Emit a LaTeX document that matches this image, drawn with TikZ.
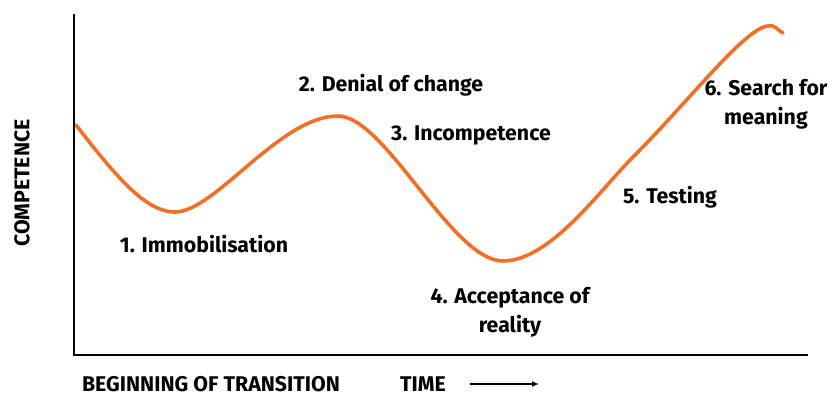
\documentclass[tikz,border=0pt]{standalone}
\usepackage{fontspec}
\setmainfont{Fira Sans}
\usetikzlibrary{arrows.meta}
\definecolor{curveorange}{HTML}{F07027}
\begin{document}
\begin{tikzpicture}[x=1pt,y=-1pt,
  lbl/.style={font=\fontsize{21.3}{29}\selectfont\bfseries, align=center, inner sep=0pt},
  axis/.style={line width=2.6pt, line cap=butt},
  curve/.style={curveorange, line width=3.6pt, line cap=round, line join=round}]
  \useasboundingbox (0,0) rectangle (828,394);
  % axes
  \coordinate (top) at (74,14);
  \coordinate (origin) at (74,355);
  \coordinate (xend) at (808,355);
  \draw[axis] (top) -- (origin) -- (xend);
  % transition curve
  \coordinate (c0) at (76,125);
  \coordinate (c1) at (175,212);
  \coordinate (c2) at (338,116);
  \coordinate (c3) at (503,261);
  \coordinate (c4) at (633,157);
  \coordinate (c5) at (768,26);
  \coordinate (c6) at (783,33);
  \draw[curve] (c0) .. controls (115,175) and (145,212) .. (c1)
    .. controls (215,212) and (280,116) .. (c2)
    .. controls (385,116) and (452,261) .. (c3)
    .. controls (550,261) and (600,190) .. (c4)
    .. controls (690,100) and (745,28) .. (c5)
    .. controls (775,24) and (778,31) .. (c6);
  % stage labels
  \node[lbl] (s1) at (204,244) {1. Immobilisation};
  \node[lbl] (s2) at (391,85) {2. Denial of change};
  \node[lbl] (s3) at (471,135) {3. Incompetence};
  \node[lbl] (s4) at (510,312) {4. Acceptance of\\reality};
  \node[lbl] (s5) at (670,197) {5. Testing};
  \node[lbl] (s6) at (766,104) {6. Search for\\meaning};
  % axis titles
  \node[lbl, rotate=90] (yl) at (22,183) {COMPETENCE};
  \node[lbl] (begin) at (211,384) {BEGINNING OF TRANSITION};
  \node[lbl] (time) at (423,384) {TIME};
  \coordinate (arrowend) at (539,384);
  \draw[line width=1.8pt, -{Latex[length=7pt,width=6pt]}] ([xshift=24pt]time.east) -- (arrowend);
\end{tikzpicture}
\end{document}
